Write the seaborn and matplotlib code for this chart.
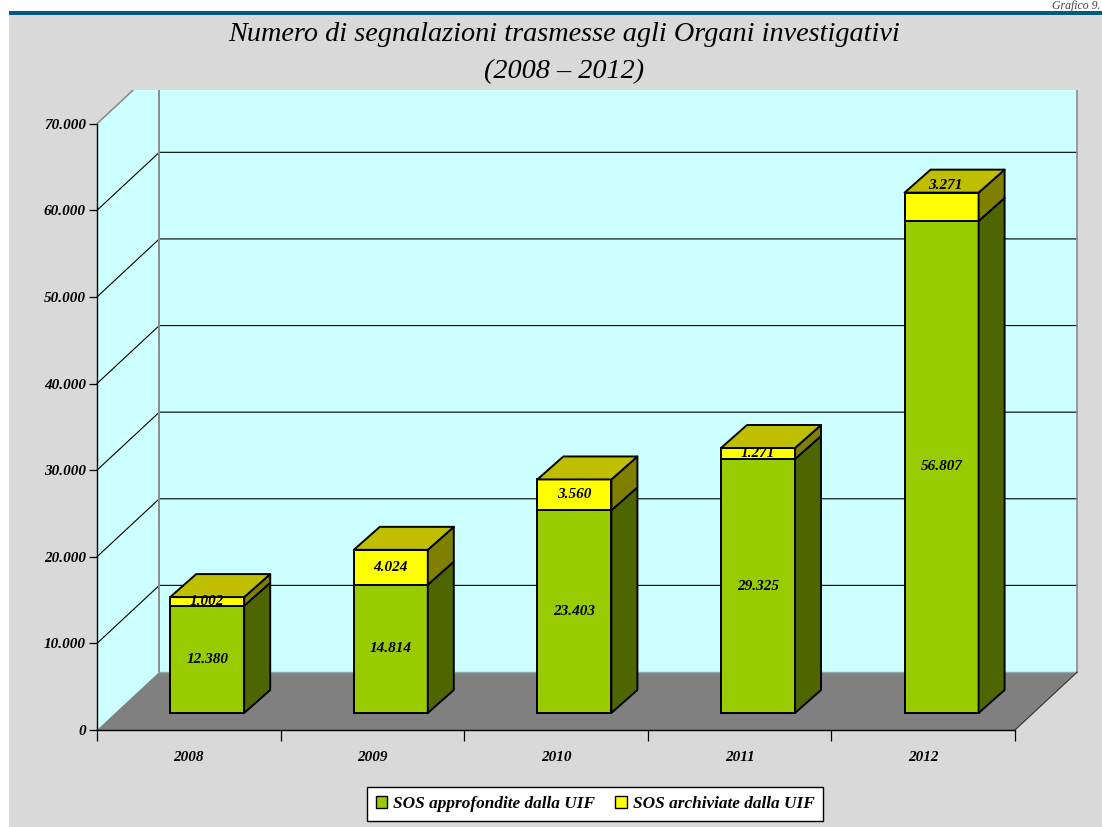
import numpy as np
import pandas as pd
import matplotlib
matplotlib.use("Agg")
import matplotlib.pyplot as plt
import seaborn as sns
from matplotlib.patches import Polygon, Patch, Rectangle
from matplotlib.lines import Line2D
from matplotlib.transforms import Affine2D, Bbox, IdentityTransform

years = ["2008", "2009", "2010", "2011", "2012"]
approfondite = [12380, 14814, 23403, 29325, 56807]
archiviate = [1002, 4024, 3560, 1271, 3271]
series_names = ["SOS approfondite dalla UIF", "SOS archiviate dalla UIF"]
y_ticks = [0, 10000, 20000, 30000, 40000, 50000, 60000, 70000]
title_text = "Numero di segnalazioni trasmesse agli Organi investigativi\n(2008 – 2012)"
corner_note = "Grafico 9."

W, H = 1102, 827
GREEN, GREEN_SIDE = "#99CC00", "#4D6600"
YELLOW, YELLOW_SIDE, YELLOW_TOP = "#FFFF00", "#808000", "#BFBF00"
WALL, FLOOR, PANEL, RULE = "#CCFFFF", "#808080", "#D9D9D9", "#005A82"
LABEL_SIZE = 11

sns.set_theme(style="white")
plt.rcParams["font.family"] = ["Liberation Serif", "DejaVu Serif"]
plt.rcParams["font.style"] = "italic"
plt.rcParams["font.weight"] = "bold"

fig = plt.figure(figsize=(W / 100, H / 100), dpi=100, facecolor="white")
ax = fig.add_axes([97 / W, 1 - 730 / H, (1015 - 97) / W, (730 - 123.7) / H])
ax.patch.set_visible(False)
fig.add_artist(Rectangle((9 / W, 0), 1 - 9 / W, 1 - 15 / H, transform=fig.transFigure,
                         fc=PANEL, ec="none", zorder=-2))
fig.add_artist(Rectangle((9 / W, 1 - 15 / H), 1 - 9 / W, 3.5 / H, transform=fig.transFigure,
                         fc=RULE, ec="none", zorder=-2))

df = pd.DataFrame({"year": years, "a": approfondite, "b": archiviate})
BAR_W = 74 / 183.6
sns.barplot(df, x="year", y="a", color=GREEN, width=BAR_W, saturation=1,
            edgecolor="black", linewidth=1.4, ax=ax, zorder=3)
sns.barplot(df, x="year", y="b", bottom=df["a"], color=YELLOW, width=BAR_W, saturation=1,
            edgecolor="black", linewidth=1.4, ax=ax, zorder=3)

ax.set_xlim(-0.5, 4.5)
ax.set_ylim(0, 70000)
ax.set_yticks(y_ticks)
ax.set_yticklabels([f"{v:,}".replace(",", ".") for v in y_ticks], fontsize=LABEL_SIZE, color="black")
ax.set_xticks(range(len(years)))
ax.set_xticklabels(years, fontsize=LABEL_SIZE, color="black")
ax.set_xticks(np.arange(-0.5, 5), minor=True)
ax.tick_params(axis="x", which="major", length=0, pad=15, labelcolor="black")
ax.tick_params(axis="x", which="minor", length=8, width=0.9, color="black", bottom=True)
ax.tick_params(axis="y", length=6, width=0.9, color="black", pad=2, left=True, labelcolor="black")
ax.set_xlabel("")
ax.set_ylabel("")
for s in ("top", "right"):
    ax.spines[s].set_visible(False)
for s in ("left", "bottom"):
    ax.spines[s].set_color("black")
    ax.spines[s].set_linewidth(1.0)
ax.spines["bottom"].set_zorder(2.5)

fig.canvas.draw()


def proj(x, y, dx=0, dy=0):
    px, py = ax.transData.transform((x, y))
    return px + dx, py + dy


# Depth of the chart box and of the bars, in pixels (style of the pseudo-3D)
BACK = (62.3, 58)
BAR_POS = (18.4, 17)
BAR_DEPTH = (26, 23)
clip = Bbox([[0, 0], [W, H - 90]])


def add_poly(pts, fc, ec="none", lw=0.0, z=1.0, clipped=True):
    p = Polygon(pts, closed=True, fc=fc, ec=ec, lw=lw, transform=IdentityTransform(),
                zorder=z, joinstyle="round")
    ax.add_patch(p)
    p.set_clip_on(False)
    if clipped:
        p.set_clip_on(True)
        p.set_clip_box(clip)
    return p


def add_line(xs, ys, color="black", lw=0.8, z=1.5):
    l = Line2D(xs, ys, color=color, lw=lw, transform=IdentityTransform(), zorder=z)
    ax.add_line(l)
    l.set_clip_on(True)
    l.set_clip_box(clip)


xL, xR, top = -0.5, 4.5, 70000
# back wall, left wall, floor
add_poly([proj(xL, 0, *BACK), proj(xR, 0, *BACK), proj(xR, top, *BACK), proj(xL, top, *BACK)], WALL)
add_poly([proj(xL, 0), proj(xL, 0, *BACK), proj(xL, top, *BACK), proj(xL, top)], WALL)
add_poly([proj(xL, 0), proj(xR, 0), proj(xR, 0, *BACK), proj(xL, 0, *BACK)], FLOOR, z=1.2)
for v in y_ticks[1:-1]:
    a, b, c = proj(xL, v), proj(xL, v, *BACK), proj(xR, v, *BACK)
    add_line([a[0], b[0], c[0]], [a[1], b[1], c[1]])
a, b = proj(xL, top), proj(xL, top, *BACK)
add_line([a[0], b[0]], [a[1], b[1]], color="#8C8C8C", lw=1.2)
a, b = proj(xL, 0, *BACK), proj(xL, top, *BACK)
add_line([a[0], b[0]], [a[1], b[1]], color="#8C8C8C", lw=1.4, z=1.6)
a, b = proj(xR, 0, *BACK), proj(xR, top, *BACK)
add_line([a[0], b[0]], [a[1], b[1]], color="#8C8C8C", lw=1.2, z=1.6)
a, b, c = proj(xR, 0), proj(xR, 0, *BACK), proj(xL, 0, *BACK)
add_line([a[0], b[0]], [a[1], b[1]], color="#333333", lw=0.8, z=1.6)
add_line([b[0], c[0]], [b[1], c[1]], color="#8FA8A8", lw=1.0, z=1.3)

# bars: move to mid-depth, add side and top faces
shift = ax.transData + Affine2D().translate(*BAR_POS)
for art in list(ax.patches):
    if isinstance(art, Rectangle) and art.get_height() > 0 and art.get_width() < 1:
        art.set_transform(shift)
        x0, x1 = art.get_x(), art.get_x() + art.get_width()
        y0, y1 = art.get_y(), art.get_y() + art.get_height()
        is_top = y0 > 0
        dx, dy = BAR_POS
        ddx, ddy = dx + BAR_DEPTH[0], dy + BAR_DEPTH[1]
        add_poly([proj(x1, y0, dx, dy), proj(x1, y0, ddx, ddy), proj(x1, y1, ddx, ddy), proj(x1, y1, dx, dy)],
                 YELLOW_SIDE if is_top else GREEN_SIDE, ec="black", lw=1.4, z=3.1, clipped=False)
        if is_top:
            add_poly([proj(x0, y1, dx, dy), proj(x1, y1, dx, dy), proj(x1, y1, ddx, ddy), proj(x0, y1, ddx, ddy)],
                     YELLOW_TOP, ec="black", lw=1.4, z=3.1, clipped=False)

# data labels, centred on each segment (the last one sits on the top face, as in the source)
fmt = lambda v: f"{v:,}".replace(",", ".")
lab = shift
for i, (p, q) in enumerate(zip(approfondite, archiviate)):
    ax.text(i, p / 2, fmt(p), transform=lab, ha="center", va="center", fontsize=LABEL_SIZE,
            color="black", zorder=5)
    extra = 21 if i == len(years) - 1 else 0
    ax.text(i, p + q / 2, fmt(q), transform=lab + Affine2D().translate(4 if extra else 0, extra),
            ha="center", va="center", fontsize=LABEL_SIZE, color="black", zorder=5)

fig.suptitle(title_text, x=564 / W, y=1 - 53 / H, ha="center", va="center",
             fontsize=20.35, fontweight="normal", linespacing=1.62, color="black")
fig.text(1 - 2 / W, 1 - 5.5 / H, corner_note, ha="right", va="center", fontsize=8.5,
         fontweight="normal", color="#444444")

handles = [Patch(fc=GREEN, ec="black", lw=1.0), Patch(fc=YELLOW, ec="black", lw=1.0)]
leg = fig.legend(handles, series_names, ncol=2, loc="center", bbox_to_anchor=(595 / W, 1 - 804 / H),
                 frameon=True, fancybox=False, edgecolor="black", facecolor="white", framealpha=1,
                 fontsize=12.4, handlelength=0.65, handleheight=0.75, handletextpad=0.35,
                 columnspacing=1.2, borderpad=0.5, borderaxespad=0, labelcolor="black")
leg.get_frame().set_linewidth(1.0)

fig.savefig("out.png", dpi=100, facecolor="white")
